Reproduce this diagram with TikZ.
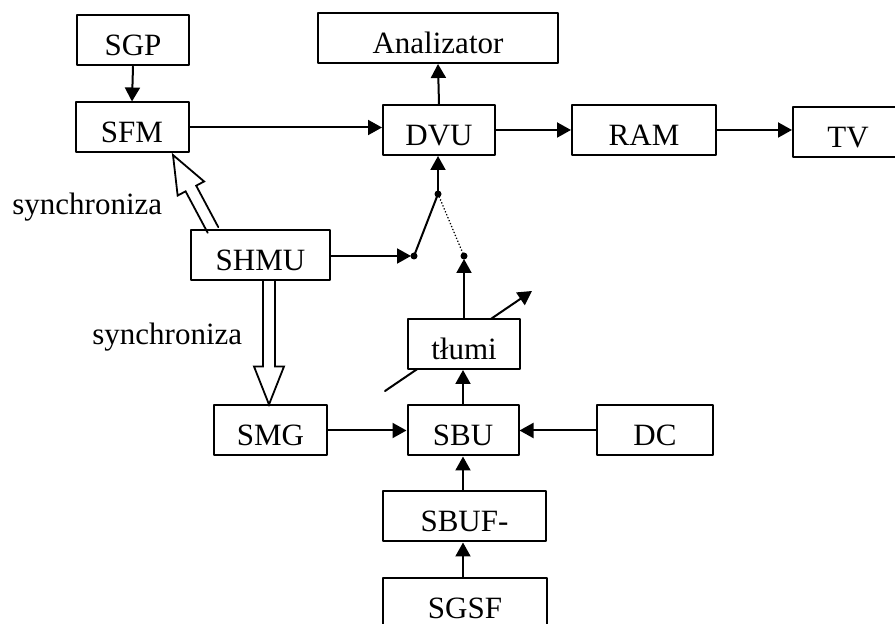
\documentclass[tikz,border=0pt]{standalone}
\usepackage{fontspec}
\setmainfont{Liberation Serif}
\usetikzlibrary{arrows.meta,calc}

\tikzset{
  blok/.style={draw, fill=white, line width=1pt, inner sep=0pt,
    minimum height=25pt, text height=15.2pt, text depth=0pt,
    font=\fontsize{15.5}{18}\selectfont},
  napis/.style={inner sep=0pt, font=\fontsize{15.5}{18}\selectfont},
  strz/.style={line width=1pt, -{Triangle[length=7pt,width=7.5pt]}},
  kropka/.style={fill, circle, inner sep=0pt, minimum size=3.5pt}
}
\newcommand{\pustastrz}[2]{%
  \path ($(#2)!19pt!(#1)$) coordinate (hb);
  \draw[line width=0.9pt, line join=miter]
    ($(#1)!3pt!90:(#2)$) -- ($(hb)!3pt!90:(#2)$) -- ($(hb)!7.5pt!90:(#2)$)
    -- (#2) -- ($(hb)!7.5pt!-90:(#2)$) -- ($(hb)!3pt!-90:(#2)$)
    -- ($(#1)!3pt!-90:(#2)$);
}

\begin{document}
\begin{tikzpicture}[x=0.5pt, y=-0.5pt, line cap=round, line join=round]
\useasboundingbox (0,0) rectangle (895,624);

\coordinate (reg1) at (385,391);
\coordinate (reg2) at (532,291);
\draw[strz] (reg1) -- (reg2);

\node[blok, minimum width=56pt]   (sgp)   at (133,40.5)  {SGP};
\node[blok, minimum width=56.5pt] (sfm)   at (132,127.5) {SFM};
\node[blok, minimum width=120pt]  (anal)  at (438,38)    {Analizator};
\node[blok, minimum width=56pt]   (dvu)   at (439,130)   {DVU};
\node[blok, minimum width=72pt]   (ram)   at (644,130)   {RAM};
\node[blok, minimum width=55pt]   (tv)    at (848,132.5) {TV};
\node[blok, minimum width=69.5pt] (shmu)  at (260.5,255) {SHMU};
\node[blok, minimum width=56pt]   (tlumi) at (464,344)   {tłumi};
\node[blok, minimum width=56.5pt] (smg)   at (270.5,430.5) {SMG};
\node[blok, minimum width=55.5pt] (sbu)   at (463,430.5) {SBU};
\node[blok, minimum width=58pt]   (dc)    at (655,430)   {DC};
\node[blok, minimum width=81.5pt] (sbuf)  at (464.5,516.5) {SBUF-};
\node[blok, minimum width=82pt]   (sgsf)  at (465,603)   {SGSF};

\node[napis, anchor=base west] (syn1) at (12,215)  {synchroniza};
\node[napis, anchor=base west] (syn2) at (92,345)  {synchroniza};

\coordinate (swtop) at (438,194);
\coordinate (swa)   at (414,256);
\coordinate (swb)   at (464,256);
\node[kropka] at (swtop) {};
\node[kropka] at (swa) {};
\node[kropka] at (swb) {};
\draw[line width=1pt] (swa) -- (swtop);
\draw[line width=0.8pt, dash pattern=on 0.1pt off 1.5pt] (swtop) -- (swb);

\draw[strz] (sgp.south) -- (sfm.north);
\draw[strz] (sfm.east) -- (sfm.east -| dvu.west);
\draw[strz] (dvu.north) -- (anal.south);
\draw[strz] (dvu.east) -- (dvu.east -| ram.west);
\draw[strz] (ram.east) -- (ram.east -| tv.west);
\draw[strz] (swtop) -- (swtop |- dvu.south);
\draw[strz, shorten >=1.5pt] (shmu.east |- swa) -- (swa);
\draw[strz, shorten >=1.5pt] (tlumi.north -| swb) -- (swb);
\draw[strz] (sbu.north) -- (sbu.north |- tlumi.south);
\draw[strz] (smg.east |- sbu.west) -- (sbu.west);
\draw[strz] (dc.west |- sbu.east) -- (sbu.east);
\draw[strz] (sbuf.north -| sbu.south) -- (sbu.south);
\draw[strz] (sgsf.north -| sbu.south) -- (sbu.south |- sbuf.south);

\coordinate (h1a) at (213,230);
\coordinate (h1b) at (173,155);
\coordinate (h2a) at (269,280);
\pustastrz{h1a}{h1b}
\pustastrz{h2a}{h2a |- smg.north}

\end{tikzpicture}
\end{document}
